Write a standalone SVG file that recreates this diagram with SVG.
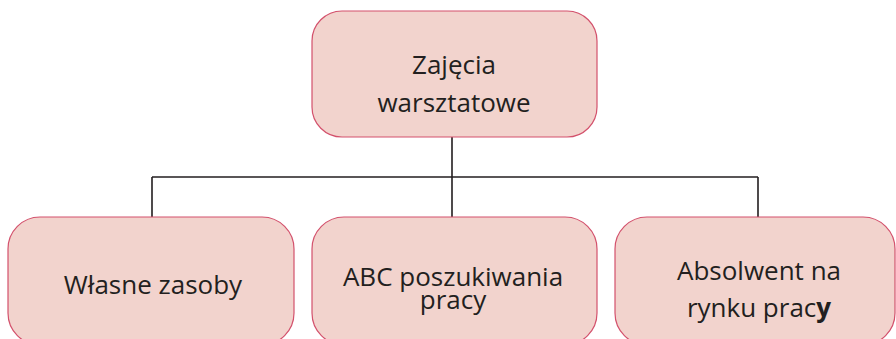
<svg xmlns="http://www.w3.org/2000/svg" width="896" height="339" viewBox="0 0 896 339">
<style>
.box{fill:#f2d3cd;stroke:#d3516c;stroke-width:1.2}
.t{font-family:"Open Sans","Liberation Sans",sans-serif;font-size:26px;fill:#231f20;text-anchor:middle}
.c{stroke:#231f20;stroke-width:1.6;fill:none}
</style>
<rect width="896" height="339" fill="#ffffff"/>
<g id="connectors">
<path class="c" d="M452 137V177M152 177H758M152 177V217M452 177V217M758 177V217"/>
</g>
<g id="n-top">
<rect class="box" x="312" y="11" width="285" height="126" rx="30"/>
<text class="t" x="454" y="74">Zajęcia</text>
<text class="t" x="454" y="112">warsztatowe</text>
</g>
<g id="n-left">
<rect class="box" x="8" y="217" width="286" height="128" rx="32"/>
<text class="t" x="153" y="294">Własne zasoby</text>
</g>
<g id="n-mid">
<rect class="box" x="312" y="217" width="285" height="128" rx="32"/>
<text class="t" x="453" y="286">ABC poszukiwania</text>
<text class="t" x="453" y="309">pracy</text>
</g>
<g id="n-right">
<rect class="box" x="615" y="217" width="280" height="128" rx="32"/>
<text class="t" x="759" y="280">Absolwent na</text>
<text class="t" x="759" y="317">rynku prac<tspan font-weight="bold">y</tspan></text>
</g>
</svg>
